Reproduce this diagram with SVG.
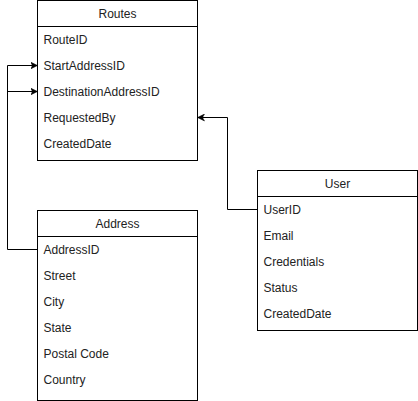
<svg xmlns="http://www.w3.org/2000/svg" width="418" height="401" viewBox="0 0 418 401">
<style>
.box{fill:#fff;stroke:#000;stroke-width:1}
.sep{stroke:#000;stroke-width:1}
.hdr{font-family:"Liberation Sans",Arial,sans-serif;font-size:12px;fill:#222;text-anchor:middle}
.fld{font-family:"Liberation Sans",Arial,sans-serif;font-size:12px;fill:#222}
.edge{fill:none;stroke:#000;stroke-width:1}
</style>
<defs>
<marker id="arr" markerUnits="userSpaceOnUse" markerWidth="8" markerHeight="8" viewBox="0 0 8 8" refX="7" refY="4" orient="auto">
<path d="M0,0.5 L7,4 L0,7.5 L2,4 Z" fill="#000" stroke="#000" stroke-width="0.5"/>
</marker>
</defs>
<rect width="418" height="401" fill="#fff"/>
<g id="connectors">
<path class="edge" d="M37.5,249.5 H7.5 V65.5 H37.5" marker-end="url(#arr)"/>
<path class="edge" d="M7.5,91.5 H37.5" marker-end="url(#arr)"/>
<path class="edge" d="M257.5,209.5 H227.5 V117.5 H197.5" marker-end="url(#arr)"/>
</g>
<g id="routes">
<rect class="box" x="37.5" y="0.5" width="160" height="160"/>
<line class="sep" x1="37.5" y1="26.5" x2="197.5" y2="26.5"/>
<text class="hdr" x="117.5" y="18">Routes</text>
<text class="fld" x="43.5" y="44">RouteID</text>
<text class="fld" x="43.5" y="70">StartAddressID</text>
<text class="fld" x="43.5" y="96">DestinationAddressID</text>
<text class="fld" x="43.5" y="122">RequestedBy</text>
<text class="fld" x="43.5" y="148">CreatedDate</text>
</g>
<g id="address">
<rect class="box" x="37.5" y="210.5" width="160" height="190"/>
<line class="sep" x1="37.5" y1="236.5" x2="197.5" y2="236.5"/>
<text class="hdr" x="117.5" y="228">Address</text>
<text class="fld" x="43.5" y="254">AddressID</text>
<text class="fld" x="43.5" y="280">Street</text>
<text class="fld" x="43.5" y="306">City</text>
<text class="fld" x="43.5" y="332">State</text>
<text class="fld" x="43.5" y="358">Postal Code</text>
<text class="fld" x="43.5" y="384">Country</text>
</g>
<g id="user">
<rect class="box" x="257.5" y="170.5" width="160" height="160"/>
<line class="sep" x1="257.5" y1="196.5" x2="417.5" y2="196.5"/>
<text class="hdr" x="337.5" y="188">User</text>
<text class="fld" x="263.5" y="214">UserID</text>
<text class="fld" x="263.5" y="240">Email</text>
<text class="fld" x="263.5" y="266">Credentials</text>
<text class="fld" x="263.5" y="292">Status</text>
<text class="fld" x="263.5" y="318">CreatedDate</text>
</g>
</svg>
